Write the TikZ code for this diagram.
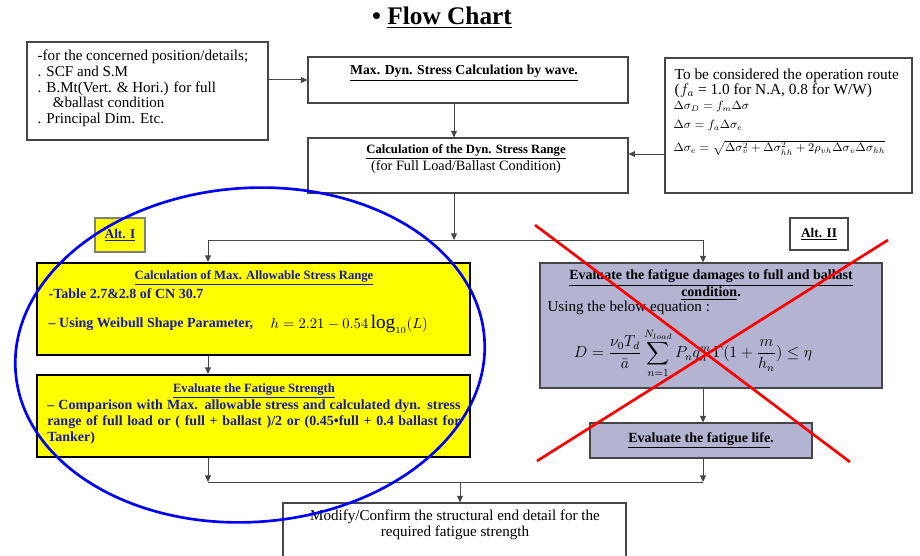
\documentclass[tikz,border=0pt]{standalone}
\usepackage{fontspec}
\setmainfont{Liberation Serif}
\usepackage{amsmath,amssymb}
\usetikzlibrary{arrows.meta,positioning,fit,calc,shapes}
\definecolor{hiyellow}{RGB}{255,255,0}
\definecolor{lavbox}{RGB}{179,179,210}
\definecolor{navytext}{RGB}{25,25,165}
\definecolor{linegray}{RGB}{70,70,70}

\begin{document}
\begin{tikzpicture}[x=0.75pt,y=-0.75pt,font=\fontsize{11.3}{11.9}\selectfont,
  box/.style={draw=linegray,rectangle,inner sep=0pt,line width=0.8pt},
  ybox/.style={box,draw=black,fill=hiyellow,line width=1.5pt},
  pbox/.style={box,fill=lavbox},
  msg/.style={->,>={Triangle[length=5pt,width=4.5pt]},draw=linegray,line width=0.75pt},
  link/.style={draw=linegray,line width=0.75pt},
  hd/.style={font=\fontsize{9.5}{11}\selectfont\bfseries},
  btxt/.style={font=\fontsize{10.5}{12}\selectfont\bfseries,text=navytext},
  eqtxt/.style={anchor=west,inner sep=1pt,font=\fontsize{9}{10}\selectfont},
]
  \useasboundingbox (0,0) rectangle (920,556);

  % boxes
  \node[box,fit={(27,42) (268,140)}] (info) {};
  \node[box,fit={(308,57) (628,103)}] (dyn) {};
  \node[box,fit={(308,138) (628,193)}] (range) {};
  \node[box,fit={(665,58) (912,193)}] (route) {};
  \node[box,fill=hiyellow,draw=gray,fit={(95,218) (145,252)}] (alt1) {};
  \node[box,fit={(790,218) (848,250)}] (alt2) {};
  \node[ybox,fit={(37,263) (470,355)}] (allow) {};
  \node[ybox,fit={(37,375) (470,457)}] (strength) {};
  \node[pbox,fit={(540,263) (882,388)}] (damage) {};
  \node[pbox,fit={(590,423) (812,458)}] (life) {};
  \node[box,fit={(283,503) (626,575)}] (modify) {};

  % texts
  \node[font=\fontsize{19}{22}\selectfont\bfseries] (title) at (442,18) {\textbullet\ \underline{Flow Chart}};
  \node[anchor=north west,align=left] (infotxt) at (33,45) {-for the concerned position/details;\\ . SCF and S.M\\ . B.Mt(Vert. \& Hori.) for full\\ \hspace{1em}\&ballast condition\\ . Principal Dim. Etc.};
  \node[font=\fontsize{10.3}{12}\selectfont\bfseries] (dyntxt) at (464,73) {\underline{Max. Dyn. Stress Calculation by wave.}};
  \node[align=center,font=\fontsize{10.7}{12.5}\selectfont] (rangetxt) at (466,159) {{\bfseries\fontsize{9.5}{11}\selectfont\underline{Calculation of the Dyn. Stress Range}}\\(for Full Load/Ballast Condition)};
  \node[anchor=north west,align=left,font=\fontsize{11.5}{11}\selectfont] (routetxt) at (670,64) {To be considered the operation route\\ ($f_a$ = 1.0 for N.A, 0.8 for W/W)};
  \node[eqtxt] (eq1) at (672,107) {$\Delta\sigma_D=f_m\Delta\sigma$};
  \node[eqtxt] (eq2) at (672,126) {$\Delta\sigma=f_a\Delta\sigma_e$};
  \node[eqtxt] (eq3) at (672,148) {$\Delta\sigma_e=\sqrt{\Delta\sigma_v^2+\Delta\sigma_{hh}^2+2\rho_{vh}\Delta\sigma_v\Delta\sigma_{hh}}$};
  \node[btxt,font=\fontsize{10}{12}\selectfont\bfseries] (alt1txt) at (alt1) {\underline{Alt. I}};
  \node[font=\fontsize{10}{12}\selectfont\bfseries] (alt2txt) at (alt2) {\underline{Alt. II}};

  \node[hd,text=navytext] (allowhd) at (254,278) {\underline{Calculation of Max. Allowable Stress Range}};
  \node[btxt,anchor=west] (allowt1) at (44,294) {-Table 2.7\&2.8 of CN 30.7};
  \node[btxt,anchor=west] (allowt2) at (44,324) {– Using Weibull Shape Parameter,};
  \node[anchor=west,font=\fontsize{10.5}{12}\selectfont] (allowf) at (266,324) {$h=2.21-0.54\,\text{\Large log}_{10}(L)$};

  \node[hd,text=navytext] (strhd) at (254,391) {\underline{Evaluate the Fatigue Strength}};
  \node[btxt,anchor=north west,text width=310pt,align=justify,inner sep=0pt] (strtxt) at (47,400) {– Comparison with Max. allowable stress and calculated dyn. stress\linebreak range of full load or ( full + ballast )/2 or (0.45\textbullet full + 0.4 ballast for\linebreak Tanker)};

  \node[hd,align=center,inner sep=1pt,font=\fontsize{10.5}{11.5}\selectfont\bfseries] (damhd) at (711,285) {\underline{Evaluate the fatigue damages to full and ballast}\\\underline{condition}.};
  \node[anchor=west,inner sep=1pt] (damtxt) at (546,308) {Using the below equation :};
  \node[inner sep=1pt,font=\fontsize{12}{14}\selectfont] (dameq) at (693,353) {$\displaystyle D=\frac{\nu_0 T_d}{\bar a}\sum_{n=1}^{N_{load}}P_n q_n^m\,\Gamma(1+\frac{m}{h_n})\le\eta$};
  \node[hd,font=\fontsize{10.5}{12}\selectfont\bfseries] (lifetxt) at (life) {\underline{Evaluate the fatigue life}.};
  \node[align=center] (modtxt) at (455,525) {Modify/Confirm the structural end detail for the\\required fatigue strength};

  % connectors
  \coordinate (split) at (454,240);
  \coordinate (lspine) at (208,240);
  \coordinate (rspine) at (703,240);
  \coordinate (merge) at (460,482);
  \coordinate (routein) at ([yshift=8.6pt]range.east);
  \draw[msg] (info.east |- dyn.west) -- (dyn.west);
  \draw[msg] (dyn.south -| split) -- (range.north -| split);
  \draw[msg] (route.west |- routein) -- (routein);
  \draw[msg] (range.south -| split) -- (split);
  \draw[link] (lspine) -- (rspine);
  \draw[msg] (lspine) -- (allow.north -| lspine);
  \draw[msg] (rspine) -- (damage.north -| rspine);
  \draw[msg] (allow.south -| lspine) -- (strength.north -| lspine);
  \draw[msg] (strength.south -| lspine) -- (lspine |- merge);
  \draw[msg] (damage.south -| rspine) -- (life.north -| rspine);
  \draw[msg] (life.south -| rspine) -- (rspine |- merge);
  \draw[link] (lspine |- merge) -- (rspine |- merge);
  \draw[msg] (merge) -- (modify.north -| merge);

  % marks
  \draw[blue,line width=2pt,rotate around={4:(250,355)}] (250,355) ellipse [x radius=235,y radius=167];
  \draw[red,line width=2pt] (535,225) -- (850,462) (888,240) -- (537,461);
\end{tikzpicture}
\end{document}
